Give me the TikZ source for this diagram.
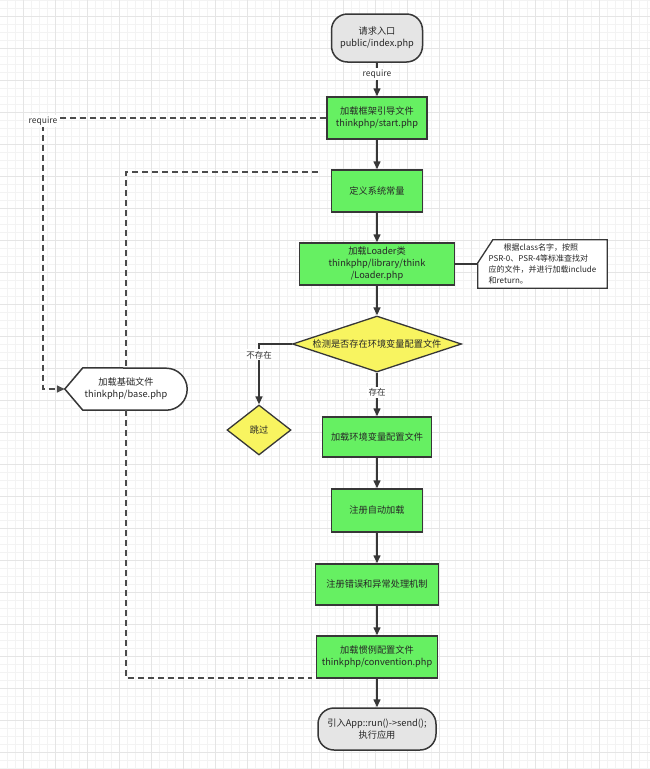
\documentclass[tikz,border=0pt]{standalone}
\usepackage{fontspec}
\setmainfont{Noto Sans CJK SC}
\usetikzlibrary{arrows.meta,shapes.geometric,positioning}

\definecolor{boxgreen}{RGB}{102,240,98}
\definecolor{diayellow}{RGB}{248,244,96}
\definecolor{termgray}{RGB}{229,229,229}
\definecolor{edgegray}{RGB}{55,55,55}
\definecolor{gridminor}{RGB}{243,243,243}
\definecolor{gridmajor}{RGB}{229,229,229}

\pgfdeclarelayer{gridlayer}
\pgfdeclarelayer{shapelayer}
\pgfsetlayers{gridlayer,shapelayer,main}

\begin{document}
\begin{tikzpicture}[x=1pt, y=-1pt,
	boxtext/.style={font=\fontsize{9.2}{12}\selectfont, align=center, text=black!85},
	stepbox/.style={boxtext, draw=edgegray, line width=1.5pt, fill=boxgreen, inner sep=2pt},
	termbox/.style={boxtext, draw=edgegray, line width=1.5pt, fill=termgray, rounded corners=16pt},
	decision/.style={boxtext, diamond, draw=edgegray, line width=1.3pt, fill=diayellow, inner sep=0pt},
	flow/.style={draw=edgegray, line width=1.5pt, -{Triangle[length=8pt,width=7pt]}},
	dashline/.style={draw=edgegray!90, line width=1.5pt, dash pattern=on 6pt off 4pt},
	flowlabel/.style={font=\fontsize{8.5}{10}\selectfont, fill=white, inner sep=1.5pt, text=black!80}]
	
	% Rahmen
	\useasboundingbox (0,0) rectangle (650,769);
	
	% Raster im Hintergrund
	\begin{pgfonlayer}{gridlayer}
		\fill[white] (0,0) rectangle (650,769);
		\foreach \gx in {7,15,...,647} \draw[gridminor, line width=0.7pt] (\gx,0) -- (\gx,769);
		\foreach \gy in {0,8,...,768} \draw[gridminor, line width=0.7pt] (0,\gy) -- (650,\gy);
		\foreach \gx in {23,55,...,647} \draw[gridmajor, line width=0.8pt] (\gx,0) -- (\gx,769);
		\foreach \gy in {16,48,...,752} \draw[gridmajor, line width=0.8pt] (0,\gy) -- (650,\gy);
	\end{pgfonlayer}
	
	% Hauptspalte
	\node[termbox, minimum width=91pt, minimum height=48pt] (entry) at (377,38) {请求入口\\public/index.php};
	\node[stepbox, minimum width=100pt, minimum height=42pt] (startfile) at (377,118) {加载框架引导文件\\thinkphp/start.php};
	\node[stepbox, minimum width=91pt, minimum height=42pt] (consts) at (377,191) {定义系统常量};
	\node[stepbox, minimum width=155pt, minimum height=42pt] (loader) at (377,264) {加载Loader类\\thinkphp/library/think\\/Loader.php};
	\node[decision, shape aspect=3, minimum width=169pt, minimum height=56pt] (checkenv) at (377,344) {检测是否存在环境变量配置文件};
	\node[decision, shape aspect=1.3, minimum width=64pt, minimum height=50pt] (skip) at (259,430) {跳过};
	\node[stepbox, minimum width=109pt, minimum height=40pt] (loadenv) at (377,437) {加载环境变量配置文件};
	\node[stepbox, minimum width=91pt, minimum height=43pt] (autoload) at (377,510.5) {注册自动加载};
	\node[stepbox, minimum width=123pt, minimum height=41pt] (errors) at (377,584.5) {注册错误和异常处理机制};
	\node[stepbox, minimum width=121pt, minimum height=42pt] (convention) at (377,657) {加载惯例配置文件\\thinkphp/convention.php};
	\node[termbox, minimum width=118pt, minimum height=42pt] (runapp) at (377,729) {引入App::run()->send();\\执行应用};
	
	% Basisdatei links, Umriss auf eigener Ebene
	\node[boxtext, minimum width=122pt, minimum height=42pt] (base) at (126,389) {加载基础文件\\thinkphp/base.php};
	\begin{pgfonlayer}{shapelayer}
		\draw[draw=edgegray, line width=1.5pt, fill=white]
		([xshift=18pt]base.north west) -- (base.west) -- ([xshift=18pt]base.south west)
		-- ([xshift=-21pt]base.south east) arc[start angle=-90, end angle=90, radius=21pt] -- cycle;
	\end{pgfonlayer}
	
	% Notiz rechts neben Loader
	\node[font=\fontsize{8}{11}\selectfont, align=left, minimum width=129pt, minimum height=48pt, inner sep=0pt, text=black!85] (note) at (542.5,264)
	{\hspace*{15pt}根据class名字，按照\\PSR-0、PSR-4等标准查找对\\应的文件，并进行加载include\\和return。};
	\begin{pgfonlayer}{shapelayer}
		\draw[draw=edgegray, line width=1.3pt, fill=white]
		([xshift=15pt]note.north west) -- ([yshift=-23pt]note.north west) -- (note.south west)
		-- (note.south east) -- (note.north east) -- cycle;
	\end{pgfonlayer}
	\draw[edgegray, line width=1.5pt] (loader.east) -- (loader.east -| note.west);
	
	% Pfeile der Hauptspalte
	\draw[flow] (entry) -- node[flowlabel, pos=0.33] (reqlabel) {require} (startfile);
	\draw[flow] (startfile) -- (consts);
	\draw[flow] (consts) -- (loader);
	\draw[flow] (loader) -- (checkenv);
	\draw[flow] (checkenv) -- node[flowlabel, pos=0.45] (yeslabel) {存在} (loadenv);
	\draw[flow] (checkenv.west) -| node[flowlabel, pos=0.59] (nolabel) {不存在} (skip.north);
	\draw[flow] (loadenv) -- (autoload);
	\draw[flow] (autoload) -- (errors);
	\draw[flow] (errors) -- (convention);
	\draw[flow] (convention) -- (runapp);
	
	% Gestrichelte Verbindungen zur Basisdatei
	\coordinate (reqcorner) at (43,118);
	\draw[dashline, -{Triangle[length=8pt,width=7pt]}] (startfile.west) -- (reqcorner) |- (base.west);
	\node[flowlabel] (reqside) at (43,121) {require};
	
	\coordinate (constsend) at (318,172);
	\coordinate (conventend) at (312,678);
	\draw[dashline] (constsend) -| (base.north);
	\draw[dashline] (base.south) |- (conventend);
	
\end{tikzpicture}
\end{document}
